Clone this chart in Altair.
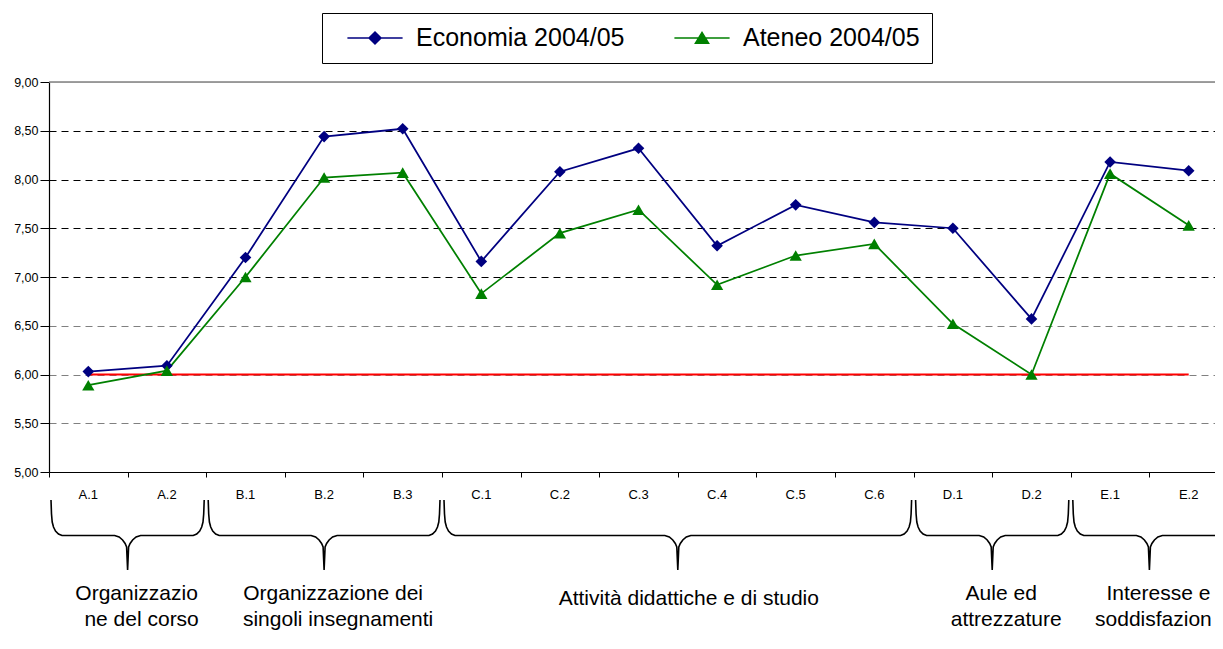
import altair as alt
import pandas as pd

# ---------------- data ----------------
categorie = ["A.1", "A.2", "B.1", "B.2", "B.3", "C.1", "C.2", "C.3", "C.4",
             "C.5", "C.6", "D.1", "D.2", "E.1", "E.2"]
economia = [6.03, 6.09, 7.20, 8.44, 8.52, 7.16, 8.08, 8.32, 7.32, 7.74,
            7.56, 7.50, 6.57, 8.18, 8.09]
ateneo = [5.89, 6.04, 7.00, 8.02, 8.07, 6.83, 7.45, 7.69, 6.92, 7.22,
          7.34, 6.52, 6.00, 8.06, 7.53]
serie_nomi = ["Economia 2004/05", "Ateneo 2004/05"]
soglia = 6.00
y_ticks = [5.00, 5.50, 6.00, 6.50, 7.00, 7.50, 8.00, 8.50, 9.00]

gruppi_riga1 = ["Organizzazio", "Organizzazione dei",
                "Attività didattiche e di studio", "Aule ed", "Interesse e"]
gruppi_riga2 = ["ne del corso", "singoli insegnamenti", "", "attrezzature",
                "soddisfazion"]
gruppi_primo = ["A.1", "B.1", "C.1", "D.1", "E.1"]
gruppi_ultimo = ["A.2", "B.3", "C.6", "D.2", "E.2"]

# ---------------- layout / style ----------------
FONT = "Liberation Sans"
N = len(categorie)
U = 78.6                 # pixels per category band (as in the original)
W, H = 1166, 390         # plot area (the original runs past the right edge)
PAD_L, PAD_T = 41, 74
SVG_H = 624
TOP = 8 + PAD_T          # page y of the plot top
colori = ["#000080", "#008000"]

XLAB_Y = 495             # page y positions of the annotations below the plot
BR_TOP = 500
L1_Y, L2_Y, SINGLE_Y = 594, 620, 599
DX1 = 9                            # label line 1 shift (px)
DX2 = [14, 14, 14, 14, 4]          # label line 2 shift per group (px)

# ---------------- tables ----------------
rows = []
for nome, vals in zip(serie_nomi, [economia, ateneo]):
    for i, (c, v) in enumerate(zip(categorie, vals)):
        rows.append({"idx": i, "cat": c, "serie": nome, "valore": v})
df = pd.DataFrame(rows)
cat_df = pd.DataFrame({"idx": list(range(N)), "cat": categorie})

bounds = [i - 0.5 for i in range(N + 1)]

# curly brace profile: (pixel dx, pixel dy below brace top)
left_prof = [(0, 0), (0.5, 14), (1.2, 22), (2.5, 27), (4.5, 31),
             (7.5, 34), (11, 35.5)]
mid_prof = [(-13, 35.5), (-8.5, 37), (-5, 40), (-2.5, 43.5), (-1, 47),
            (0, 70)]
g_rows, brace_rows = [], []
for g, (p, u, r1, r2) in enumerate(zip(gruppi_primo, gruppi_ultimo,
                                       gruppi_riga1, gruppi_riga2)):
    b0 = categorie.index(p) - 0.5
    b1 = categorie.index(u) + 0.5
    mid = (b0 + b1) / 2
    g_rows.append({"centro": mid, "centro1": mid + DX1 / U,
                   "centro2": mid + DX2[g] / U, "riga1": r1, "riga2": r2})
    x0 = b0 + 2 / U
    x1 = b1 - 2 / U
    pts = [(x0 + dx / U, dy) for dx, dy in left_prof]
    pts += [(mid + dx / U, dy) for dx, dy in mid_prof]
    pts += [(mid - dx / U, dy) for dx, dy in reversed(mid_prof[:-1])]
    pts += [(x1 - dx / U, dy) for dx, dy in reversed(left_prof)]
    for k, (bx, dy) in enumerate(pts):
        brace_rows.append({"gruppo": g, "ordine": k, "bx": bx,
                           "by": BR_TOP + dy - TOP})
grp_df = pd.DataFrame(g_rows)
brace_df = pd.DataFrame(brace_rows)
soglia_df = pd.DataFrame({"x0": [0], "x1": [N - 1], "y": [soglia]})
top_df = pd.DataFrame({"y": [y_ticks[-1]]})

# ---------------- scales / axes ----------------
xs = alt.Scale(domain=[-0.5, -0.5 + W / U], nice=False, zero=False)
ys = alt.Scale(domain=[y_ticks[0], y_ticks[-1]], nice=False, zero=False)

x_axis = alt.Axis(values=bounds, labels=False, title=None, grid=False,
                  tickSize=5, tickColor="black", domainColor="black",
                  domainWidth=1.2, tickWidth=1)
y_axis = alt.Axis(values=y_ticks, title=None, tickSize=9, labelPadding=2,
                  labelFontSize=12.5, labelFont=FONT, labelColor="black",
                  labelExpr="replace(format(datum.value, '.2f'), '.', ',')",
                  tickColor="black", domainColor="black", domainWidth=1.2,
                  grid=True, gridDash=[7, 5], gridWidth=1,
                  gridColor={"condition": {"test": "datum.value >= 6.9",
                                           "value": "#000000"},
                             "value": "#808080"},
                  gridOpacity={"condition": {"test": "datum.value <= 5 || datum.value >= 9",
                                             "value": 0},
                               "value": 1})


def X(field):
    return alt.X(field, scale=xs, axis=x_axis)


def Y(field):
    return alt.Y(field, scale=ys, axis=y_axis)


shape_paths = [
    "M-0.69,0H0.69M0,-0.15L0.15,0L0,0.15L-0.15,0Z",
    "M-0.69,0H0.69M0,-0.14L0.165,0.13L-0.165,0.13Z",
]
leg = alt.Legend(title=None, orient="none", legendX=273, legendY=13 - TOP,
                 direction="horizontal", columns=2, symbolSize=6400,
                 symbolStrokeWidth=1.5, labelOffset=0, columnPadding=36,
                 padding=12, clipHeight=26, strokeColor="black",
                 fillColor="white", labelFontSize=25, labelFont=FONT,
                 labelColor="black", labelLimit=0)

# ---------------- layers ----------------
base = alt.Chart(df)

top_rule = alt.Chart(top_df).mark_rule(color="#808080", strokeWidth=1.5).encode(
    y=Y("y:Q"))

line_eco = base.transform_filter(alt.datum.serie == serie_nomi[0]).mark_line(
    color=colori[0], strokeWidth=1.75).encode(x=X("idx:Q"), y=Y("valore:Q"))

line_ate = base.transform_filter(alt.datum.serie == serie_nomi[1]).mark_line(
    color=colori[1], strokeWidth=1.75).encode(x=X("idx:Q"), y=Y("valore:Q"))

pts_eco = base.transform_filter(alt.datum.serie == serie_nomi[0]).mark_point(
    shape="diamond", filled=True, size=135, color=colori[0], opacity=1).encode(
    x=X("idx:Q"), y=Y("valore:Q"))

pts_ate = base.transform_filter(alt.datum.serie == serie_nomi[1]).mark_point(
    shape="triangle-up", filled=True, size=150, color=colori[1], opacity=1).encode(
    x=X("idx:Q"), y=Y("valore:Q"))

soglia_rule = alt.Chart(soglia_df).mark_rule(color="#FF0000", strokeWidth=2).encode(
    x=X("x0:Q"), x2="x1:Q", y=Y("y:Q"))

legend_layer = base.mark_point(filled=True, opacity=1, clip=True,
                               strokeWidth=1.5).encode(
    x=X("idx:Q"),
    y=alt.value(-400),
    color=alt.Color("serie:N", scale=alt.Scale(domain=serie_nomi, range=colori), legend=leg),
    stroke=alt.Stroke("serie:N", scale=alt.Scale(domain=serie_nomi, range=colori), legend=leg),
    shape=alt.Shape("serie:N", scale=alt.Scale(domain=serie_nomi, range=shape_paths), legend=leg))

cat_text = alt.Chart(cat_df).mark_text(font=FONT, fontSize=13, color="black",
                                       baseline="middle").encode(
    x=X("idx:Q"), y=alt.value(XLAB_Y - TOP), text="cat:N")

braces = alt.Chart(brace_df).mark_line(color="black", strokeWidth=1.6).encode(
    x=X("bx:Q"), y=alt.Y("by:Q", scale=None),
    detail="gruppo:N", order="ordine:Q")

two = alt.Chart(grp_df).transform_filter(alt.datum.riga2 != "")
g_line1 = two.mark_text(font=FONT, fontSize=21, color="black",
                        baseline="middle").encode(
    x=X("centro1:Q"), y=alt.value(L1_Y - TOP), text="riga1:N")
g_line2 = two.mark_text(font=FONT, fontSize=21, color="black",
                        baseline="middle").encode(
    x=X("centro2:Q"), y=alt.value(L2_Y - TOP), text="riga2:N")
g_single = alt.Chart(grp_df).transform_filter(alt.datum.riga2 == "").mark_text(
    font=FONT, fontSize=21, color="black", baseline="middle", dx=11).encode(
    x=X("centro:Q"), y=alt.value(SINGLE_Y - TOP), text="riga1:N")

chart = alt.layer(
    top_rule, line_eco, soglia_rule, line_ate, pts_eco, pts_ate, legend_layer,
    cat_text, braces, g_line1, g_line2, g_single
).properties(
    width=W, height=H,
    autosize=alt.AutoSizeParams(type="none"),
    padding={"left": PAD_L, "top": PAD_T, "right": 0,
             "bottom": SVG_H - PAD_T - H},
).configure_view(
    stroke=None
).configure(font=FONT)

chart.save("out.html", embed_options={"renderer": "svg", "actions": False})
